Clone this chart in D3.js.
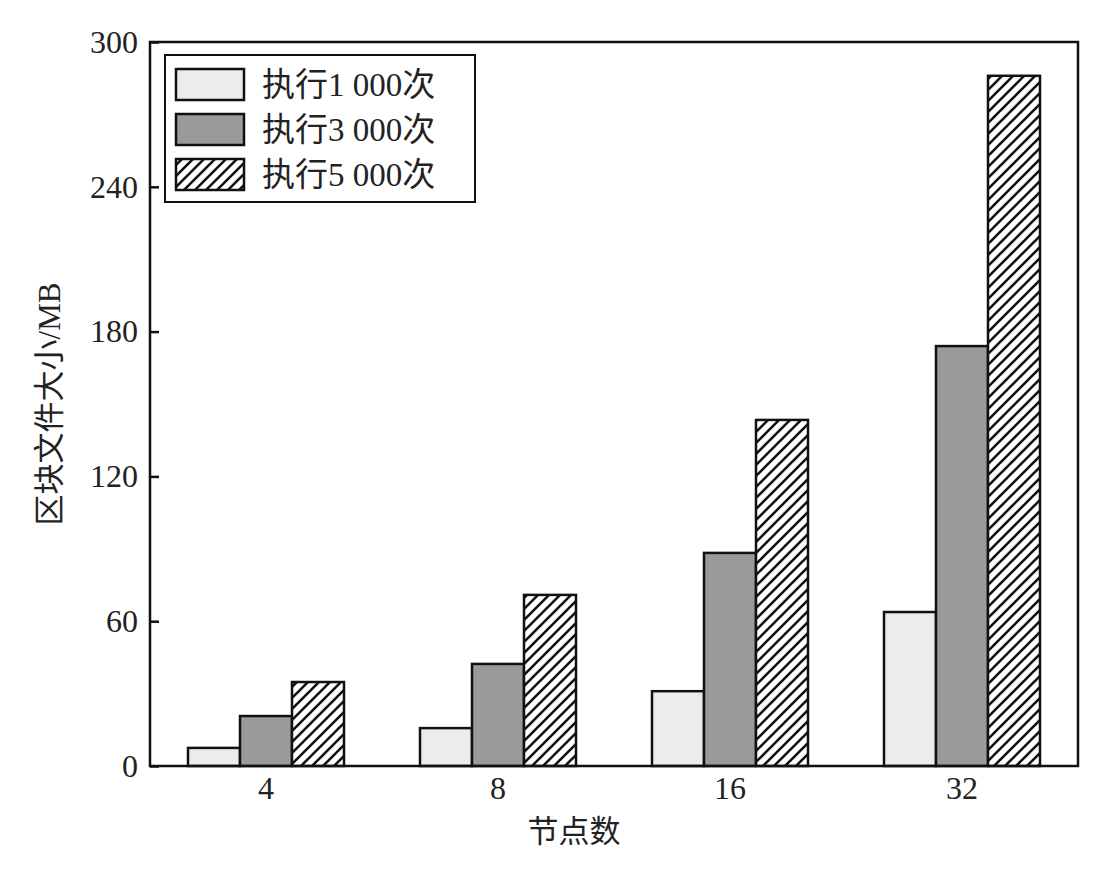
<!DOCTYPE html>
<html><head><meta charset="utf-8">
<script src="https://cdn.jsdelivr.net/npm/d3@7"></script>
<style>body{margin:0;background:#fff}</style></head>
<body><svg id="c" width="1098" height="872"></svg>
<script>
const categories=["4","8","16","32"];
const seriesNames=["执行1 000次","执行3 000次","执行5 000次"];
const s1=[7.5,15.7,31,63.8];
const s2=[20.7,42.3,88.3,174];
const s3=[34.8,70.9,143.4,286];
const yTicks=[0,60,120,180,240,300];
const series=[s1,s2,s3];
const fills=["#ececec","#9a9a9a","url(#hatch)"];
const svg=d3.select("#c");
const m={l:150,r:1078,t:42,b:766};
const font="'Times New Roman','Liberation Serif','Noto Sans CJK SC',serif";
const defs=svg.append("defs");
const p=defs.append("pattern").attr("id","hatch").attr("patternUnits","userSpaceOnUse").attr("width",11).attr("height",11);
p.append("rect").attr("width",11).attr("height",11).attr("fill","#fff");
p.append("path").attr("d","M-3,3 L3,-3 M0,11 L11,0 M8,14 L14,8").attr("stroke","#111").attr("stroke-width",2.6);
const x=d3.scaleBand().domain(categories).range([m.l,m.r]);
const x1=d3.scaleBand().domain([0,1,2]).range([0,156]);
const y=d3.scaleLinear().domain([0,300]).range([m.b,m.t]);
series.forEach((s,i)=>{
 svg.append("g").selectAll("rect").data(s).join("rect")
  .attr("x",(d,j)=>x(categories[j])+x.bandwidth()/2-78+x1(i))
  .attr("y",d=>y(d)).attr("width",x1.bandwidth()).attr("height",d=>m.b-y(d))
  .attr("fill",fills[i]).attr("stroke","#111").attr("stroke-width",2.5);
});
svg.append("rect").attr("x",m.l).attr("y",m.t).attr("width",m.r-m.l).attr("height",m.b-m.t).attr("fill","none").attr("stroke","#111").attr("stroke-width",2.5);
const ya=svg.append("g").attr("transform",`translate(${m.l},0)`).call(d3.axisLeft(y).tickValues(yTicks).tickSizeInner(-9).tickSizeOuter(0).tickPadding(12));
ya.select(".domain").remove();
ya.selectAll("line").attr("stroke","#111").attr("stroke-width",2.5);
ya.selectAll("text").attr("font-family",font).attr("font-size",32).attr("fill","#222");
const xa=svg.append("g").attr("transform",`translate(0,${m.b})`).call(d3.axisBottom(x).tickSize(0).tickPadding(10));
xa.select(".domain").remove();
xa.selectAll("text").attr("font-family",font).attr("font-size",32).attr("fill","#222");
svg.append("text").attr("x",(m.l+m.r)/2-40).attr("y",842).attr("text-anchor","middle").attr("font-family",font).attr("font-size",31).attr("fill","#222").text("节点数");
svg.append("text").attr("transform",`translate(60,${(m.t+m.b)/2}) rotate(-90)`).attr("text-anchor","middle").attr("font-family",font).attr("font-size",31).attr("fill","#222").text("区块文件大小/MB");
const lg=svg.append("g");
lg.append("rect").attr("x",165).attr("y",55).attr("width",310).attr("height",147).attr("fill","#fff").attr("stroke","#111").attr("stroke-width",2);
seriesNames.forEach((n,i)=>{
 const yy=69+i*45;
 lg.append("rect").attr("x",176).attr("y",yy).attr("width",68).attr("height",31).attr("fill",fills[i]).attr("stroke","#111").attr("stroke-width",2.5);
 lg.append("text").attr("x",262).attr("y",yy+27).attr("font-family",font).attr("font-size",33).attr("fill","#222").text(n);
});
</script></body></html>
